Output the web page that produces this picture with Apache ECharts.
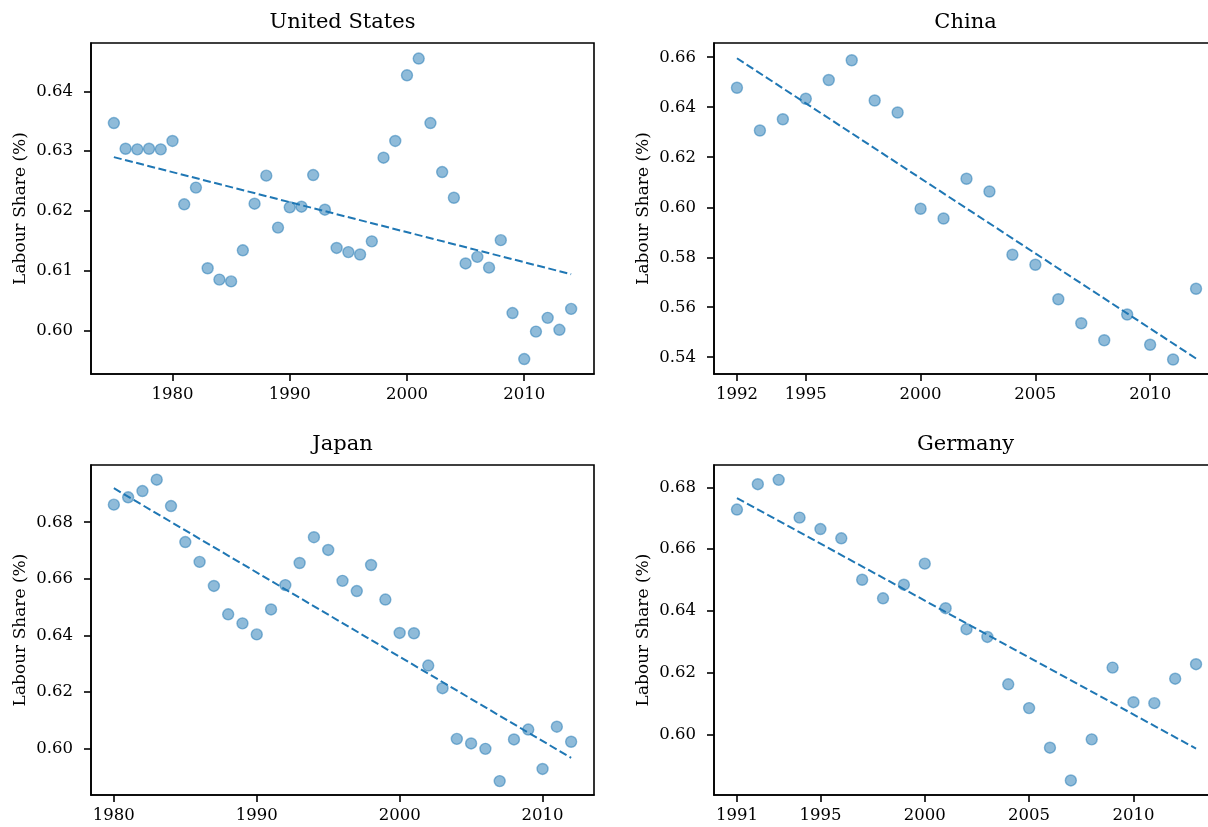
<!DOCTYPE html>
<html>
<head>
<meta charset="utf-8">
<script src="https://cdn.jsdelivr.net/npm/echarts@6/dist/echarts.min.js"></script>
<style>
  html, body { margin: 0; padding: 0; background: #fff; }
  #chart { width: 1208px; height: 827px; }
</style>
</head>
<body>
<div id="chart"></div>
<script>
// ---------------- data ----------------
const usYears = [1975,1976,1977,1978,1979,1980,1981,1982,1983,1984,1985,1986,1987,1988,1989,1990,1991,1992,1993,1994,1995,1996,1997,1998,1999,2000,2001,2002,2003,2004,2005,2006,2007,2008,2009,2010,2011,2012,2013,2014];
const usValues = [0.6347,0.6304,0.6303,0.6304,0.6303,0.6317,0.6211,0.6239,0.6104,0.6085,0.6082,0.6134,0.6212,0.6259,0.6172,0.6206,0.6207,0.6260,0.6202,0.6138,0.6131,0.6127,0.6149,0.6289,0.6317,0.6427,0.6455,0.6347,0.6265,0.6222,0.6112,0.6123,0.6105,0.6151,0.6029,0.5952,0.5998,0.6021,0.6001,0.6036];
const usTrendYears = [1975, 2014];
const usTrendValues = [0.6290, 0.6094];

const cnYears = [1992,1993,1994,1995,1996,1997,1998,1999,2000,2001,2002,2003,2004,2005,2006,2007,2008,2009,2010,2011,2012];
const cnValues = [0.6478,0.6307,0.6352,0.6434,0.6509,0.6588,0.6427,0.6379,0.5994,0.5955,0.6114,0.6063,0.5810,0.5770,0.5632,0.5536,0.5468,0.5571,0.5450,0.5391,0.5674];
const cnTrendYears = [1992, 2012];
const cnTrendValues = [0.6596, 0.5395];

const jpYears = [1980,1981,1982,1983,1984,1985,1986,1987,1988,1989,1990,1991,1992,1993,1994,1995,1996,1997,1998,1999,2000,2001,2002,2003,2004,2005,2006,2007,2008,2009,2010,2011,2012];
const jpValues = [0.6862,0.6888,0.6910,0.6950,0.6857,0.6730,0.6660,0.6575,0.6475,0.6443,0.6404,0.6492,0.6578,0.6656,0.6747,0.6702,0.6593,0.6557,0.6649,0.6527,0.6409,0.6408,0.6294,0.6214,0.6035,0.6019,0.6000,0.5886,0.6033,0.6068,0.5929,0.6078,0.6025];
const jpTrendYears = [1980, 2012];
const jpTrendValues = [0.6920, 0.5968];

const deYears = [1991,1992,1993,1994,1995,1996,1997,1998,1999,2000,2001,2002,2003,2004,2005,2006,2007,2008,2009,2010,2011,2012,2013];
const deValues = [0.6728,0.6810,0.6824,0.6702,0.6665,0.6635,0.6501,0.6441,0.6485,0.6553,0.6409,0.6341,0.6316,0.6163,0.6086,0.5958,0.5852,0.5985,0.6217,0.6105,0.6102,0.6181,0.6228];
const deTrendYears = [1991, 2013];
const deTrendValues = [0.6765, 0.5955];

const titles = ['United States', 'China', 'Japan', 'Germany'];
const yAxisName = 'Labour Share (%)';

const usXTicks = [1980, 1990, 2000, 2010];
const cnXTicks = [1992, 1995, 2000, 2005, 2010];
const jpXTicks = [1980, 1990, 2000, 2010];
const deXTicks = [1991, 1995, 2000, 2005, 2010];

const usYTicks = [0.60, 0.61, 0.62, 0.63, 0.64];
const cnYTicks = [0.54, 0.56, 0.58, 0.60, 0.62, 0.64, 0.66];
const jpYTicks = [0.60, 0.62, 0.64, 0.66, 0.68];
const deYTicks = [0.60, 0.62, 0.64, 0.66, 0.68];

// ---------------- layout / style ----------------
const FONT = 'DejaVu Serif';
const BLUE = '#1f77b4';
const SPINE = 1.6;
const panels = [
  { title: titles[0], years: usYears, values: usValues, tY: usTrendYears, tV: usTrendValues, xt: usXTicks, yt: usYTicks,
    grid: { left: 91, top: 43, width: 503, height: 331 }, xr: [1973.05, 2015.95], yr: [0.5927, 0.6481] },
  { title: titles[1], years: cnYears, values: cnValues, tY: cnTrendYears, tV: cnTrendValues, xt: cnXTicks, yt: cnYTicks,
    grid: { left: 714, top: 43, width: 505, height: 331 }, xr: [1991.0, 2013.0], yr: [0.5333, 0.6657] },
  { title: titles[2], years: jpYears, values: jpValues, tY: jpTrendYears, tV: jpTrendValues, xt: jpXTicks, yt: jpYTicks,
    grid: { left: 91, top: 465, width: 503, height: 330 }, xr: [1978.4, 2013.6], yr: [0.5837, 0.7002] },
  { title: titles[3], years: deYears, values: deValues, tY: deTrendYears, tV: deTrendValues, xt: deXTicks, yt: deYTicks,
    grid: { left: 714, top: 465, width: 505, height: 330 }, xr: [1989.9, 2014.1], yr: [0.5805, 0.6872] }
];

const grids = [], xAxes = [], yAxes = [], series = [], graphics = [];
panels.forEach((p, i) => {
  grids.push(Object.assign({ show: true, borderColor: '#000', borderWidth: SPINE, backgroundColor: 'transparent',
    containLabel: false, outerBoundsMode: 'none' }, p.grid));
  xAxes.push({
    type: 'value', gridIndex: i, min: p.xr[0], max: p.xr[1],
    axisLine: { show: true, onZero: false, lineStyle: { color: '#000', width: SPINE } },
    axisTick: { show: true, length: 7, customValues: p.xt, lineStyle: { color: '#000', width: SPINE } },
    axisLabel: { show: true, customValues: p.xt, color: '#000', fontFamily: FONT, fontSize: 16.5, margin: 12,
      formatter: v => String(Math.round(v)) },
    splitLine: { show: false }
  });
  yAxes.push({
    type: 'value', gridIndex: i, min: p.yr[0], max: p.yr[1],
    name: yAxisName, nameLocation: 'middle', nameGap: 62,
    nameTextStyle: { color: '#000', fontFamily: FONT, fontSize: 17 },
    axisLine: { show: true, onZero: false, lineStyle: { color: '#000', width: SPINE } },
    axisTick: { show: true, length: 7, customValues: p.yt, lineStyle: { color: '#000', width: SPINE } },
    axisLabel: { show: true, customValues: p.yt, color: '#000', fontFamily: FONT, fontSize: 16.5, margin: 18,
      formatter: v => v.toFixed(2) },
    splitLine: { show: false }
  });
  series.push({
    type: 'scatter', xAxisIndex: i, yAxisIndex: i,
    data: p.years.map((y, k) => [y, p.values[k]]),
    symbol: 'circle', symbolSize: 11,
    itemStyle: { color: 'rgba(31,119,180,0.5)', borderColor: 'rgba(31,119,180,0.5)', borderWidth: 1.4, opacity: 1 },
    silent: true, z: 2
  });
  series.push({
    type: 'line', xAxisIndex: i, yAxisIndex: i,
    data: p.tY.map((y, k) => [y, p.tV[k]]),
    showSymbol: false, symbol: 'none',
    lineStyle: { color: BLUE, width: 2, type: [8, 3.5] },
    silent: true, z: 3
  });
  const cx = p.grid.left + 503 / 2;
  graphics.push({
    type: 'text', x: cx, y: p.grid.top - 20,
    style: { text: p.title, fill: '#000', font: '21px "' + FONT + '"', align: 'center', verticalAlign: 'middle' }
  });
});

const chart = echarts.init(document.getElementById('chart'), null, { renderer: 'canvas' });
chart.setOption({
  animation: false,
  backgroundColor: '#fff',
  grid: grids, xAxis: xAxes, yAxis: yAxes, series: series,
  graphic: graphics
});
</script>
</body>
</html>
